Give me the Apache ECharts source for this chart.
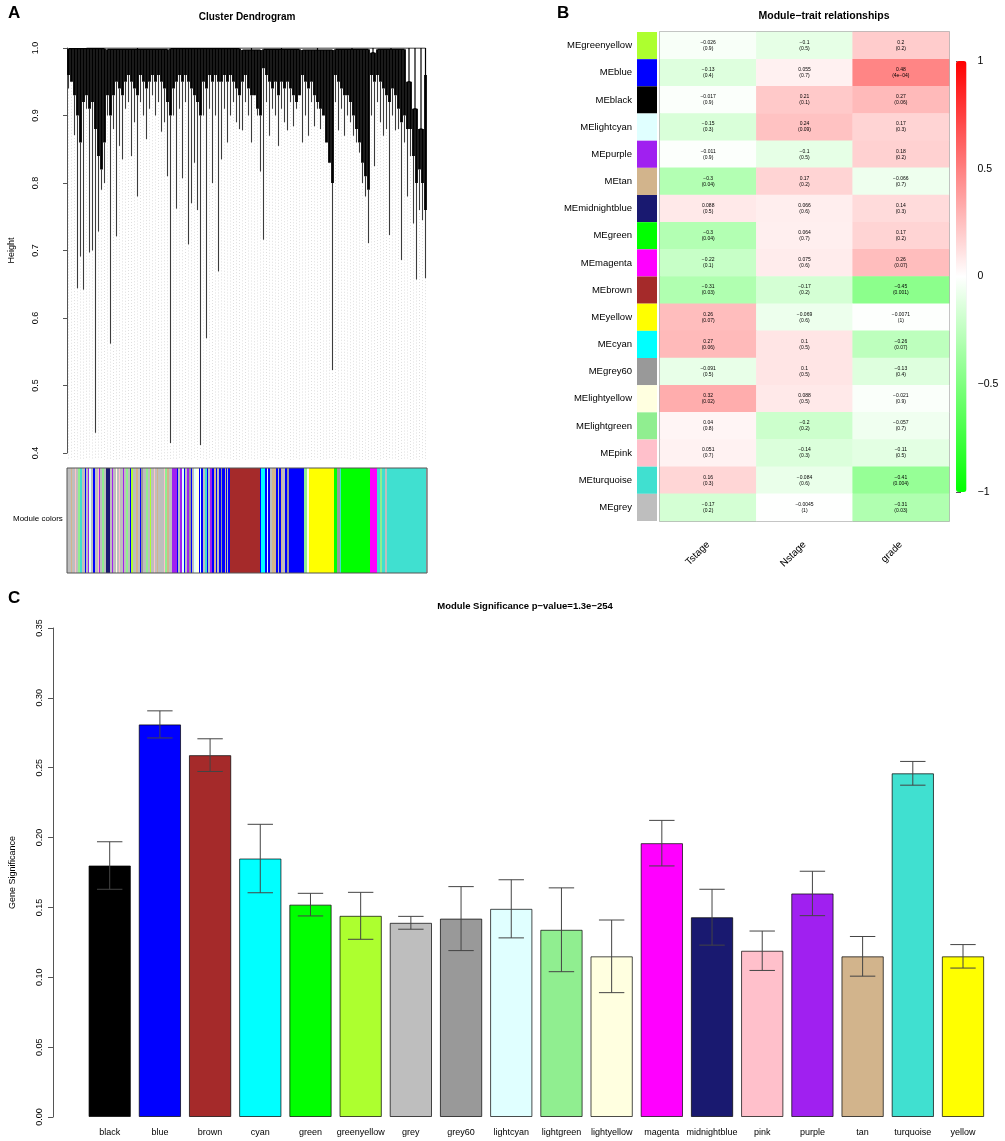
<!DOCTYPE html>
<html>
<head>
<meta charset="utf-8">
<script src="https://cdn.jsdelivr.net/npm/echarts/dist/echarts.min.js"></script>
<style>
  html, body { margin: 0; padding: 0; background: #fff; }
  #main { width: 1005px; height: 1141px; }
</style>
</head>
<body>
<div id="main"></div>
<script>
// R colour names used by the modules
var rColors = {
  black: '#000000', blue: '#0000FF', brown: '#A52A2A', cyan: '#00FFFF', green: '#00FF00',
  greenyellow: '#ADFF2F', grey: '#BEBEBE', grey60: '#999999', lightcyan: '#E0FFFF',
  lightgreen: '#90EE90', lightyellow: '#FFFFE0', magenta: '#FF00FF', midnightblue: '#191970',
  pink: '#FFC0CB', purple: '#A020F0', tan: '#D2B48C', turquoise: '#40E0D0', yellow: '#FFFF00'
};

// ---- A: dendrogram (simplified, leaves left to right) ----
var leafHeights = [
  0.94, 0.95, 0.871, 0.644, 0.691, 0.642, 0.91, 0.697, 0.70, 0.430,
  0.728, 0.79, 0.80, 0.90, 0.562, 0.88, 0.721, 0.855, 0.835, 0.91,
  0.92, 0.84, 0.89, 0.78, 0.92, 0.90, 0.865, 0.91, 0.93, 0.90,
  0.92, 0.876, 0.89, 0.81, 0.415, 0.90, 0.762, 0.91, 0.807, 0.92,
  0.709, 0.77, 0.83, 0.76, 0.412, 0.90, 0.570, 0.91, 0.80, 0.90,
  0.669, 0.835, 0.91, 0.86, 0.90, 0.92, 0.89, 0.88, 0.878, 0.92,
  0.90, 0.86, 0.93, 0.90, 0.817, 0.716, 0.92, 0.87, 0.91, 0.90,
  0.855, 0.91, 0.89, 0.878, 0.92, 0.884, 0.91, 0.93, 0.86, 0.90,
  0.87, 0.92, 0.884, 0.91, 0.88, 0.90, 0.86, 0.83, 0.523, 0.92,
  0.878, 0.91, 0.87, 0.90, 0.89, 0.87, 0.86, 0.845, 0.80, 0.78,
  0.711, 0.90, 0.825, 0.92, 0.89, 0.87, 0.88, 0.723, 0.90, 0.878,
  0.88, 0.686, 0.86, 0.78, 0.84, 0.74, 0.657, 0.76, 0.745, 0.659
];
// lower edge of the dense black branches above each leaf
var canopyHeights = [
  0.96, 0.95, 0.93, 0.90, 0.86, 0.92, 0.93, 0.91, 0.92, 0.88,
  0.84, 0.82, 0.86, 0.93, 0.90, 0.93, 0.95, 0.94, 0.93, 0.95,
  0.96, 0.95, 0.94, 0.93, 0.96, 0.95, 0.94, 0.95, 0.96, 0.95,
  0.96, 0.95, 0.94, 0.92, 0.90, 0.94, 0.95, 0.96, 0.95, 0.96,
  0.95, 0.94, 0.93, 0.92, 0.90, 0.95, 0.94, 0.96, 0.95, 0.96,
  0.95, 0.95, 0.96, 0.95, 0.96, 0.95, 0.94, 0.93, 0.95, 0.96,
  0.94, 0.93, 0.92, 0.91, 0.90, 0.97, 0.96, 0.95, 0.94, 0.95,
  0.93, 0.95, 0.94, 0.95, 0.94, 0.93, 0.92, 0.91, 0.96, 0.95,
  0.94, 0.95, 0.93, 0.92, 0.91, 0.88, 0.85, 0.82, 0.80, 0.96,
  0.95, 0.94, 0.93, 0.93, 0.92, 0.90, 0.88, 0.86, 0.83, 0.81,
  0.79, 0.96, 0.95, 0.96, 0.95, 0.94, 0.93, 0.92, 0.94, 0.93,
  0.91, 0.89, 0.90, 0.88, 0.88, 0.84, 0.80, 0.82, 0.80, 0.76
];
// [first leaf, last leaf, merge height]
var dendroClusters = [
  [0, 12, 0.999], [13, 33, 0.998], [34, 57, 0.999], [58, 64, 0.997], [65, 77, 0.998],
  [78, 88, 0.997], [89, 100, 0.998], [101, 102, 0.993], [103, 112, 0.998],
  [113, 114, 0.95], [115, 116, 0.91], [117, 118, 0.88], [119, 119, 0.96]
];
var dendroTicks = [0.4, 1.0, 0.1];

// module colour strip under the dendrogram: [colour, width]
var stripRuns = [
  ['grey', 4], ['tan', 1], ['grey', 3], ['pink', 1], ['grey', 2], ['lightgreen', 2], ['turquoise', 2], ['grey', 3],
  ['blue', 1], ['grey', 2], ['purple', 1], ['lightcyan', 2], ['grey', 2], ['blue', 2], ['grey', 3], ['pink', 1],
  ['purple', 1], ['grey', 2], ['lightgreen', 2], ['grey', 2], ['midnightblue', 4], ['grey', 2], ['purple', 1],
  ['grey', 3], ['lightyellow', 1], ['grey', 2], ['pink', 1], ['grey', 3], ['purple', 1], ['grey', 2],
  ['lightgreen', 2], ['grey', 2], ['blue', 1], ['greenyellow', 2], ['grey', 3], ['tan', 2], ['grey', 2],
  ['blue', 1], ['grey60', 2], ['grey', 3], ['lightgreen', 2], ['grey', 2], ['greenyellow', 1], ['grey', 3],
  ['pink', 1], ['grey', 2], ['tan', 1], ['grey', 3], ['grey', 3], ['pink', 1], ['lightgreen', 2], ['tan', 2],
  ['grey', 3], ['purple', 5], ['blue', 1], ['grey', 2], ['purple', 2], ['lightcyan', 2], ['blue', 1],
  ['grey', 2], ['purple', 2], ['grey60', 2], ['blue', 1], ['grey', 2], ['lightcyan', 2], ['lightyellow', 3],
  ['blue', 1], ['lightcyan', 1], ['blue', 2], ['grey', 2], ['turquoise', 2], ['blue', 1], ['grey', 2],
  ['purple', 2], ['blue', 2], ['tan', 2], ['blue', 1], ['grey', 2], ['blue', 2], ['grey60', 1], ['blue', 3],
  ['tan', 1], ['blue', 1], ['grey', 1], ['blue', 2],
  ['brown', 30], ['blue', 1], ['cyan', 4], ['blue', 2], ['lightcyan', 1], ['blue', 2], ['grey', 2], ['tan', 4],
  ['blue', 2], ['grey', 1], ['blue', 2], ['tan', 1], ['grey', 3], ['blue', 2], ['grey60', 2], ['blue', 15],
  ['lightgreen', 3], ['lightyellow', 2], ['yellow', 25], ['green', 3], ['grey60', 3], ['turquoise', 1],
  ['green', 29], ['magenta', 7], ['turquoise', 3], ['lightgreen', 2], ['turquoise', 3], ['grey', 2],
  ['turquoise', 39], ['grey', 1]
];

// ---- B: module-trait relationships ----
var traits = ['Tstage', 'Nstage', 'grade'];
var traitModules = ['greenyellow', 'blue', 'black', 'lightcyan', 'purple', 'tan', 'midnightblue', 'green',
  'magenta', 'brown', 'yellow', 'cyan', 'grey60', 'lightyellow', 'lightgreen', 'pink', 'turquoise', 'grey'];
var corTstage = [-0.026, -0.13, -0.017, -0.15, -0.011, -0.3, 0.088, -0.3, -0.22, -0.31, 0.26, 0.27, -0.091, 0.32, 0.04, 0.051, 0.16, -0.17];
var pTstage = [0.9, 0.4, 0.9, 0.3, 0.9, 0.04, 0.5, 0.04, 0.1, 0.03, 0.07, 0.06, 0.5, 0.02, 0.8, 0.7, 0.3, 0.2];
var corNstage = [-0.1, 0.055, 0.21, 0.24, -0.1, 0.17, 0.066, 0.064, 0.075, -0.17, -0.069, 0.1, 0.1, 0.088, -0.2, -0.14, -0.084, -0.0045];
var pNstage = [0.5, 0.7, 0.1, 0.09, 0.5, 0.2, 0.6, 0.7, 0.6, 0.2, 0.6, 0.5, 0.5, 0.5, 0.2, 0.3, 0.6, 1];
var corGrade = [0.2, 0.48, 0.27, 0.17, 0.18, -0.066, 0.14, 0.17, 0.26, -0.45, -0.0071, -0.26, -0.13, -0.021, -0.057, -0.11, -0.41, -0.31];
var pGrade = [0.2, 4e-4, 0.06, 0.3, 0.2, 0.7, 0.3, 0.2, 0.07, 0.001, 1, 0.07, 0.4, 0.9, 0.7, 0.5, 0.004, 0.03];
var colorbarTicks = [-1, 1, 0.5];

// ---- C: gene significance per module ----
var barModules = ['black', 'blue', 'brown', 'cyan', 'green', 'greenyellow', 'grey', 'grey60', 'lightcyan',
  'lightgreen', 'lightyellow', 'magenta', 'midnightblue', 'pink', 'purple', 'tan', 'turquoise', 'yellow'];
var geneSig = [0.180, 0.281, 0.259, 0.185, 0.152, 0.144, 0.139, 0.142, 0.149, 0.134, 0.115, 0.196, 0.143, 0.119, 0.160, 0.115, 0.246, 0.115];
var geneSigSE = [0.017, 0.0097, 0.0117, 0.0245, 0.0081, 0.0168, 0.0046, 0.0229, 0.0208, 0.030, 0.026, 0.0163, 0.020, 0.0141, 0.0159, 0.0142, 0.0085, 0.0084];
var barTicks = [0, 0.35, 0.05];

var FONT = 'Liberation Sans, Arial, Helvetica, sans-serif';
var MINUS = '\u2212';

function rMinus(s) { return String(s).replace(/-/g, MINUS); }
function fmtP(p) {
  if (p < 0.001) {
    var parts = p.toExponential(0).split('e');
    var ex = parseInt(parts[1], 10);
    var pad = Math.abs(ex) < 10 ? '0' + Math.abs(ex) : String(Math.abs(ex));
    return parts[0] + 'e' + (ex < 0 ? MINUS : '+') + pad;
  }
  return String(p);
}

// build the series data
var nLeaves = leafHeights.length;
var leafTop = [];
dendroClusters.forEach(function (c) {
  for (var i = c[0]; i <= c[1]; i++) leafTop[i] = c[2];
});
var dendroData = leafHeights.map(function (h, i) {
  return [i + 0.5, leafTop[i], canopyHeights[i], h];
});
var clusterData = dendroClusters.map(function (c) {
  return [c[0] + 0.5, c[1] + 0.5, c[2]];
});
var firstC = dendroClusters[0], lastC = dendroClusters[dendroClusters.length - 1];
var topLine = [[(firstC[0] + firstC[1]) / 2 + 0.5, 1.0], [(lastC[0] + lastC[1]) / 2 + 0.5, 1.0]];

var stripData = [];
var pos = 0;
stripRuns.forEach(function (r) {
  stripData.push([pos, r[1]]);
  pos += r[1];
});
var stripTotal = pos;

var corCols = [corTstage, corNstage, corGrade];
var pCols = [pTstage, pNstage, pGrade];
var heatData = [];
traitModules.forEach(function (m, r) {
  for (var c = 0; c < traits.length; c++) heatData.push([c, r, corCols[c][r], pCols[c][r]]);
});
var rowLabels = traitModules.map(function (m) { return 'ME' + m; });
var swatchData = traitModules.map(function (m, r) { return [0, r]; });

var barData = geneSig.map(function (v, i) {
  return { value: v, itemStyle: { color: rColors[barModules[i]] } };
});
var errData = geneSig.map(function (v, i) { return [i, v - geneSigSE[i], v + geneSigSE[i]]; });

var chart = echarts.init(document.getElementById('main'), null, { renderer: 'canvas' });

var option = {
  animation: false,
  backgroundColor: '#fff',
  textStyle: { fontFamily: FONT },
  grid: [
    { left: 67, top: 48, width: 360, height: 405 },                 // 0 dendrogram
    { left: 67, top: 468, width: 360, height: 105 },                // 1 colour strip
    { left: 637, top: 32, width: 20, height: 489 },                 // 2 swatches
    { left: 660, top: 32, width: 289, height: 489, show: true, borderColor: '#999', borderWidth: 1.5, backgroundColor: 'transparent' }, // 3 heatmap
    { left: 956, top: 61, width: 10.5, height: 431 },               // 4 colour bar ticks
    { left: 74.6, top: 628, width: 913.5, height: 489 }             // 5 bars
  ],
  xAxis: [
    { type: 'value', gridIndex: 0, min: 0, max: nLeaves, show: false },
    { type: 'value', gridIndex: 1, min: 0, max: stripTotal, show: false },
    { type: 'category', gridIndex: 2, data: [''], show: false },
    {
      type: 'category', gridIndex: 3, data: traits,
      axisLine: { show: false }, axisTick: { show: false },
      axisLabel: { rotate: 45, margin: 22, fontSize: 10, color: '#000', fontFamily: FONT }
    },
    { type: 'value', gridIndex: 4, show: false },
    {
      type: 'category', gridIndex: 5, data: barModules,
      axisLine: { show: false }, axisTick: { show: false },
      axisLabel: { fontSize: 9, color: '#000', margin: 11, interval: 0, fontFamily: FONT }
    }
  ],
  yAxis: [
    {
      type: 'value', gridIndex: 0, min: dendroTicks[0], max: dendroTicks[1], interval: dendroTicks[2],
      offset: 24, splitLine: { show: false },
      axisLine: { show: true, lineStyle: { color: '#555', width: 1 } },
      axisTick: { show: true, length: 4, lineStyle: { color: '#555' } },
      axisLabel: { rotate: 90, margin: 3, fontSize: 9, color: '#000', fontFamily: FONT, formatter: function (v) { return v.toFixed(1); } },
      name: 'Height', nameLocation: 'middle', nameGap: 27, nameRotate: 90,
      nameTextStyle: { fontSize: 9, color: '#000', fontFamily: FONT }
    },
    { type: 'value', gridIndex: 1, min: 0, max: 1, show: false },
    {
      type: 'category', gridIndex: 2, data: rowLabels, inverse: true,
      axisLine: { show: false }, axisTick: { show: false },
      axisLabel: { fontSize: 9.5, color: '#000', margin: 5, fontFamily: FONT }
    },
    { type: 'category', gridIndex: 3, data: rowLabels, inverse: true, show: false },
    {
      type: 'value', gridIndex: 4, position: 'right', min: colorbarTicks[0], max: colorbarTicks[1], interval: colorbarTicks[2],
      splitLine: { show: false }, axisLine: { show: false },
      axisTick: { show: true, length: 5, lineStyle: { color: '#555' } },
      axisLabel: { fontSize: 10.5, color: '#000', margin: 11, fontFamily: FONT, formatter: function (v) { return rMinus(v); } }
    },
    {
      type: 'value', gridIndex: 5, min: barTicks[0], max: barTicks[1], interval: barTicks[2],
      offset: 31.6, splitLine: { show: false },
      axisLine: { show: true, lineStyle: { color: '#555', width: 1 } },
      axisTick: { show: true, length: 5, lineStyle: { color: '#555' } },
      axisLabel: { rotate: 90, margin: 9, fontSize: 9, color: '#000', fontFamily: FONT, formatter: function (v) { return v.toFixed(2); } },
      name: 'Gene Significance', nameLocation: 'middle', nameGap: 36, nameRotate: 90,
      nameTextStyle: { fontSize: 9, color: '#000', fontFamily: FONT }
    }
  ],
  visualMap: {
    type: 'continuous', seriesIndex: 6, dimension: 2, min: -1, max: 1,
    inRange: { color: ['#00FF00', '#FFFFFF', '#FF0000'] },
    orient: 'vertical', left: 956, top: 61, itemWidth: 10.5, itemHeight: 431,
    calculable: false, padding: 0, borderWidth: 0, hoverLink: false
  },
  graphic: [
    { type: 'text', left: 8, top: 5, style: { text: 'A', font: 'bold 17px ' + FONT, fill: '#000' } },
    { type: 'text', left: 557, top: 5, style: { text: 'B', font: 'bold 17px ' + FONT, fill: '#000' } },
    { type: 'text', left: 8, top: 590, style: { text: 'C', font: 'bold 17px ' + FONT, fill: '#000' } },
    { type: 'text', x: 247, y: 17, style: { text: 'Cluster Dendrogram', font: 'bold 10px ' + FONT, fill: '#000', textAlign: 'center', textVerticalAlign: 'middle' } },
    { type: 'text', x: 824, y: 16, style: { text: 'Module' + MINUS + 'trait relationships', font: 'bold 10.5px ' + FONT, fill: '#000', textAlign: 'center', textVerticalAlign: 'middle' } },
    { type: 'text', x: 525, y: 606, style: { text: 'Module Significance p' + MINUS + 'value=1.3e' + MINUS + '254', font: 'bold 9.5px ' + FONT, fill: '#000', textAlign: 'center', textVerticalAlign: 'middle' } },
    { type: 'text', x: 13, y: 519, style: { text: 'Module colors', font: '8px ' + FONT, fill: '#000', textAlign: 'left', textVerticalAlign: 'middle' } }
  ],
  series: [
    { // 0 dendrogram leaves
      type: 'custom', xAxisIndex: 0, yAxisIndex: 0, data: dendroData, clip: false, silent: true,
      renderItem: function (params, api) {
        var x = api.value(0), top = api.value(1), can = api.value(2), leaf = api.value(3);
        var pTop = api.coord([x, top]);
        var pCan = api.coord([x, Math.max(can, leaf)]);
        var pLeaf = api.coord([x, leaf]);
        var pBot = api.coord([x, 0.39]);
        return {
          type: 'group', children: [
            { type: 'line', shape: { x1: pLeaf[0], y1: pLeaf[1], x2: pBot[0], y2: pBot[1] }, style: { stroke: '#d6d6d6', lineWidth: 0.8, lineDash: [1, 2] } },
            { type: 'line', shape: { x1: pCan[0], y1: pCan[1], x2: pLeaf[0], y2: pLeaf[1] }, style: { stroke: '#3c3c3c', lineWidth: 1.1 } },
            { type: 'line', shape: { x1: pTop[0], y1: pTop[1], x2: pCan[0], y2: pCan[1] }, style: { stroke: '#000', lineWidth: 2.8 } }
          ]
        };
      }
    },
    { // 1 top merge line
      type: 'line', xAxisIndex: 0, yAxisIndex: 0, data: topLine, symbol: 'none', silent: true,
      lineStyle: { color: '#000', width: 1.2 }
    },
    { // 2 cluster merges
      type: 'custom', xAxisIndex: 0, yAxisIndex: 0, data: clusterData, clip: false, silent: true,
      renderItem: function (params, api) {
        var s = api.value(0), e = api.value(1), h = api.value(2);
        var a = api.coord([s, h]), b = api.coord([e, h]);
        var mid = (s + e) / 2;
        var up = api.coord([mid, 1.0]), dn = api.coord([mid, h]);
        return {
          type: 'group', children: [
            { type: 'line', shape: { x1: a[0], y1: a[1], x2: b[0], y2: b[1] }, style: { stroke: '#000', lineWidth: 1.2 } },
            { type: 'line', shape: { x1: up[0], y1: up[1], x2: dn[0], y2: dn[1] }, style: { stroke: '#000', lineWidth: 1.2 } }
          ]
        };
      }
    },
    { // 3 module colour strip
      type: 'custom', xAxisIndex: 1, yAxisIndex: 1, data: stripData, silent: true,
      renderItem: function (params, api) {
        var a = api.coord([api.value(0), 1]);
        var b = api.coord([api.value(0) + api.value(1), 0]);
        return {
          type: 'rect', shape: { x: a[0], y: a[1], width: b[0] - a[0] + 0.4, height: b[1] - a[1] },
          style: { fill: rColors[stripRuns[params.dataIndex][0]] }
        };
      }
    },
    { // 4 strip outline
      type: 'custom', xAxisIndex: 1, yAxisIndex: 1, data: [[0, stripTotal]], silent: true,
      renderItem: function (params, api) {
        var a = api.coord([api.value(0), 1]);
        var b = api.coord([api.value(1), 0]);
        return {
          type: 'rect', shape: { x: a[0], y: a[1], width: b[0] - a[0], height: b[1] - a[1] },
          style: { fill: 'none', stroke: '#555', lineWidth: 1 }
        };
      }
    },
    { // 5 module swatches
      type: 'custom', xAxisIndex: 2, yAxisIndex: 2, data: swatchData, silent: true,
      renderItem: function (params, api) {
        var c = api.coord([api.value(0), api.value(1)]);
        var sz = api.size([1, 1]);
        return {
          type: 'rect', shape: { x: c[0] - sz[0] / 2, y: c[1] - sz[1] / 2, width: sz[0], height: sz[1] },
          style: { fill: rColors[traitModules[params.dataIndex]] }
        };
      }
    },
    { // 6 heatmap
      type: 'heatmap', xAxisIndex: 3, yAxisIndex: 3, data: heatData, silent: true,
      label: {
        show: true, fontSize: 5, lineHeight: 6, color: '#000', fontFamily: FONT,
        formatter: function (p) { return rMinus(p.value[2]) + '\n(' + fmtP(p.value[3]) + ')'; }
      },
      itemStyle: { borderWidth: 0 }
    },
    { // 7 bars
      type: 'bar', xAxisIndex: 5, yAxisIndex: 5, data: barData, barWidth: 42.3, silent: true,
      itemStyle: { borderColor: 'rgba(0,0,0,0.7)', borderWidth: 1 }
    },
    { // 8 error bars
      type: 'custom', xAxisIndex: 5, yAxisIndex: 5, data: errData, silent: true, z: 3,
      renderItem: function (params, api) {
        var x = api.value(0);
        var lo = api.coord([x, api.value(1)]), hi = api.coord([x, api.value(2)]);
        var half = 12.7;
        var st = { stroke: '#444', lineWidth: 1 };
        return {
          type: 'group', children: [
            { type: 'line', shape: { x1: lo[0], y1: lo[1], x2: hi[0], y2: hi[1] }, style: st },
            { type: 'line', shape: { x1: lo[0] - half, y1: lo[1], x2: lo[0] + half, y2: lo[1] }, style: st },
            { type: 'line', shape: { x1: hi[0] - half, y1: hi[1], x2: hi[0] + half, y2: hi[1] }, style: st }
          ]
        };
      }
    }
  ]
};

chart.setOption(option);
</script>
</body>
</html>
